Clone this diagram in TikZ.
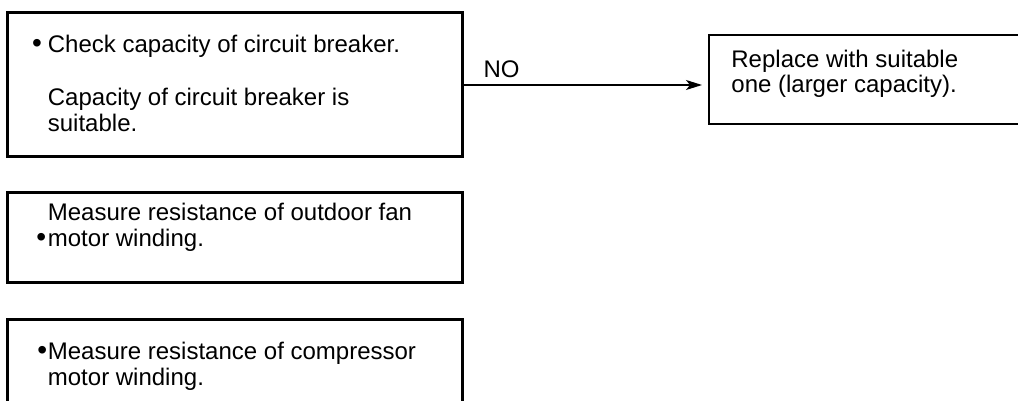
\documentclass[tikz,border=0pt]{standalone}
\usepackage{fontspec}
\setmainfont{Liberation Sans}
\usetikzlibrary{positioning,arrows.meta}
\newcommand{\blt}[1]{\llap{{\fontsize{14pt}{13pt}\selectfont\textbullet}\hspace{#1}}}

\begin{document}
\begin{tikzpicture}[x=0.5pt,y=-0.5pt,
    chkbox/.style={draw,rectangle,line width=1.5pt,outer sep=0pt,inner sep=0pt,minimum width=227.5pt},
    actbox/.style={draw,rectangle,line width=0.65pt,outer sep=0pt,inner sep=0pt,minimum width=227.5pt},
    txt/.style={anchor=base west,inner sep=0pt,align=left,font=\fontsize{12pt}{13pt}\selectfont},
    ]
    \path[use as bounding box,clip] (0,0) rectangle (1018,401);
    \node[chkbox,minimum height=72pt] (chk1) at (234.5,85) {};
    \node[chkbox,minimum height=44.5pt,below=18pt of chk1] (chk2) {};
    \node[chkbox,minimum height=72pt,below=18.5pt of chk2] (chk3) {};
    \node[actbox,minimum height=44.5pt,anchor=north west] (rep) at ([xshift=123.5pt,yshift=-11pt]chk1.north east) {};
    \node[txt] (t1) at ([xshift=20.25pt,yshift=-59.5pt]chk1.north west) {\blt{3pt}Check capacity of circuit breaker.\\[13.5pt]Capacity of circuit breaker is\\suitable.};
    \node[txt] (t2) at ([xshift=20.25pt,yshift=-26.5pt]chk2.north west) {Measure resistance of outdoor fan\\\blt{0.8pt}motor winding.};
    \node[txt] (t3) at ([xshift=20.25pt,yshift=-33pt]chk3.north west) {\blt{0.4pt}Measure resistance of compressor\\motor winding.};
    \node[txt] (t4) at ([xshift=11pt,yshift=-29pt]rep.north west) {Replace with suitable\\one (larger capacity).};
    \draw[line width=0.65pt,-{Stealth[length=8pt,width=5pt,inset=2pt]},shorten >=3.5pt] (chk1.east) -- (chk1.east -| rep.west) node[pos=0,txt,xshift=10.5pt,yshift=3.5pt] (no) {NO};
\end{tikzpicture}
\end{document}
